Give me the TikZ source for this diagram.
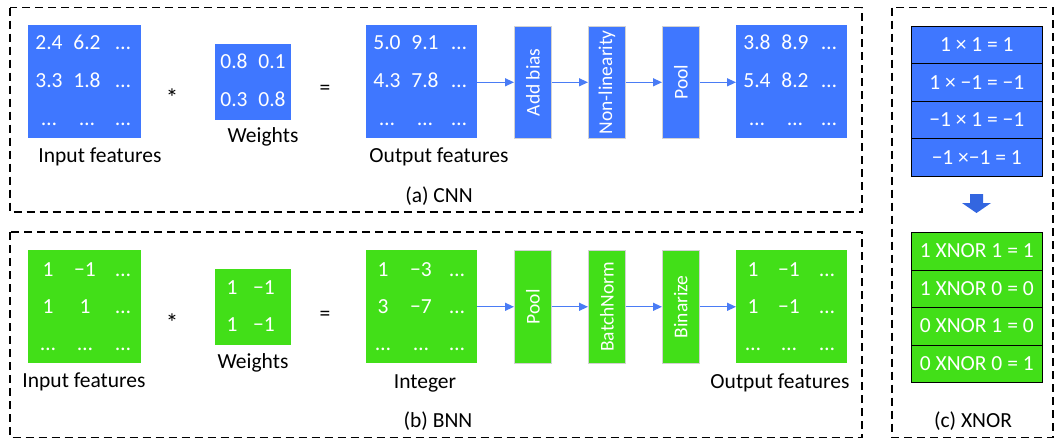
\documentclass[tikz,border=0pt]{standalone}
\usepackage{fontspec}
\setmainfont{Carlito}
\usetikzlibrary{arrows.meta}
\definecolor{cblue}{HTML}{3F77FF}
\definecolor{cgreen}{HTML}{42DF18}
\definecolor{arrblue}{HTML}{4A7CF5}
\definecolor{fatblue}{HTML}{3366E0}
\newcommand{\fsz}{\fontsize{21.5}{24}\selectfont}
\tikzset{
  frame/.style={draw=black,line width=1.3pt,dash pattern=on 8pt off 5pt},
  bmat/.style={fill=cblue,draw=none,minimum width=#1,minimum height=#1,inner sep=0pt,anchor=north west},
  gmat/.style={fill=cgreen,draw=none,minimum width=#1,minimum height=#1,inner sep=0pt,anchor=north west},
  bproc/.style={fill=cblue,draw=gray!35,line width=0.6pt,minimum width=37pt,minimum height=112pt,inner sep=0pt,anchor=north west},
  gproc/.style={fill=cgreen,draw=gray!35,line width=0.6pt,minimum width=37pt,minimum height=113pt,inner sep=0pt,anchor=north west},
  num/.style={text=white,inner sep=0pt,anchor=base,font=\fsz},
  lbl/.style={text=black,inner sep=0pt,anchor=base,font=\fsz},
  vtxt/.style={text=white,inner sep=0pt,rotate=90,font=\fontsize{19.5}{24}\selectfont},
  flow/.style={draw=arrblue,line width=1.3pt,-{Triangle[length=9pt,width=8pt]}},
  bluerow/.style={fill=cblue,draw=black,line width=0.6pt,minimum width=131pt,minimum height=37.4pt,inner sep=0pt,anchor=north west,text=white,font=\fsz},
  greenrow/.style={fill=cgreen,draw=black,line width=0.6pt,minimum width=131pt,minimum height=37.5pt,inner sep=0pt,anchor=north west,text=white,font=\fsz},
  starlbl/.style={text=black,inner sep=0pt,anchor=base,font=\fontsize{25}{28}\selectfont},
}
\begin{document}
\begin{tikzpicture}[x=1pt,y=-1pt]
\useasboundingbox (0,0) rectangle (1056,439);
% frames
\draw[frame] (10,7.5) rectangle (862,212);
\draw[frame] (10,232) rectangle (862,437.5);
\draw[frame] (892,7.5) rectangle (1053,437.5);

% ---------- (a) CNN ----------
\node[bmat=113pt] (ain) at (28,25) {};
\foreach \t/\x/\y [count=\i] in {2.4/49/49,6.2/87/49,…/123/49,3.3/49/87,1.8/87/87,…/123/87,…/49/125,…/87/125,…/123/125}
  \node[num] (ain\i) at (\x,\y) {\t};
\node[lbl] (ainl) at (100,162) {Input features};
\node[starlbl] (astar) at (172,106) {*};
\node[bmat=76pt] (aw) at (215,44) {};
\foreach \t/\x/\y [count=\i] in {0.8/234/68,0.1/272/68,0.3/234/106,0.8/272/106}
  \node[num] (aw\i) at (\x,\y) {\t};
\node[lbl] (awl) at (263,142) {Weights};
\node[lbl] (aeq) at (325,94) {=};
\node[bmat=111pt,minimum height=113pt] (aout) at (366,25) {};
\foreach \t/\x/\y [count=\i] in {5.0/387/49,9.1/425/49,…/459/49,4.3/387/87,7.8/425/87,…/459/87,…/387/125,…/425/125,…/459/125}
  \node[num] (aout\i) at (\x,\y) {\t};
\node[lbl] (aoutl) at (439,162) {Output features};
\node[bproc] (abias) at (514,26) {};
\node[vtxt] (abiast) at (abias.center) {Add bias};
\node[bproc] (anl) at (588,26) {};
\node[vtxt] (anlt) at (anl.center) {Non-linearity};
\node[bproc] (apool) at (662,26) {};
\node[vtxt] (apoolt) at (apool.center) {Pool};
\node[bmat=111pt,minimum height=113pt] (ares) at (736,25) {};
\foreach \t/\x/\y [count=\i] in {3.8/757/49,8.9/795/49,…/829/49,5.4/757/87,8.2/795/87,…/829/87,…/757/125,…/795/125,…/829/125}
  \node[num] (ares\i) at (\x,\y) {\t};
\draw[flow] (aout.east |- abias.west) -- (abias.west);
\draw[flow] (abias.east) -- (anl.west);
\draw[flow] (anl.east) -- (apool.west);
\draw[flow] (apool.east) -- (ares.west |- apool.east);
\node[lbl] (acap) at (439,202) {(a) CNN};

% ---------- (b) BNN ----------
\node[gmat=113pt] (bin) at (28,250) {};
\foreach \t/\x/\y [count=\i] in {1/48/276,−1/85/276,…/123/276,1/48/313,1/85/313,…/123/313,…/48/350,…/85/350,…/123/350}
  \node[num] (bin\i) at (\x,\y) {\t};
\node[lbl] (binl) at (84,387) {Input features};
\node[starlbl] (bstar) at (172,331) {*};
\node[gmat=76pt] (bw) at (215,269) {};
\foreach \t/\x/\y [count=\i] in {1/232/294,−1/264/294,1/232/331,−1/264/331}
  \node[num] (bw\i) at (\x,\y) {\t};
\node[lbl] (bwl) at (253,368) {Weights};
\node[lbl] (beq) at (325,320) {=};
\node[gmat=111pt,minimum height=113pt] (bint) at (366,250) {};
\foreach \t/\x/\y [count=\i] in {1/383/276,−3/421/276,…/457/276,3/383/313,−7/421/313,…/457/313,…/383/350,…/421/350,…/457/350}
  \node[num] (bint\i) at (\x,\y) {\t};
\node[lbl] (bintl) at (425,388) {Integer};
\node[gproc] (bpool) at (514,250) {};
\node[vtxt] (bpoolt) at (bpool.center) {Pool};
\node[gproc] (bbn) at (588,250) {};
\node[vtxt] (bbnt) at (bbn.center) {BatchNorm};
\node[gproc] (bbin) at (662,250) {};
\node[vtxt] (bbint) at (bbin.center) {Binarize};
\node[gmat=111pt,minimum height=113pt] (bres) at (736,250) {};
\foreach \t/\x/\y [count=\i] in {1/753/276,−1/789/276,…/827/276,1/753/313,−1/789/313,…/827/313,…/753/350,…/789/350,…/827/350}
  \node[num] (bres\i) at (\x,\y) {\t};
\node[lbl] (bresl) at (780,388) {Output features};
\draw[flow] (bint.east |- bpool.west) -- (bpool.west);
\draw[flow] (bpool.east) -- (bbn.west);
\draw[flow] (bbn.east) -- (bbin.west);
\draw[flow] (bbin.east) -- (bres.west |- bbin.east);
\node[lbl] (bcap) at (438,427) {(b) BNN};

% ---------- (c) XNOR ----------
\node[bluerow] (c1) at (911,26) {1 × 1 = 1};
\node[bluerow] (c2) at (911,63.4) {1 × −1 = −1};
\node[bluerow] (c3) at (911,100.8) {−1 × 1 = −1};
\node[bluerow] (c4) at (911,138.2) {−1 ×−1 = 1};
\fill[fatblue] (970,194) -- (983,194) -- (983,203) -- (991,203) -- (976.5,213) -- (962,203) -- (970,203) -- cycle;
\node[greenrow] (g1) at (911,232) {1 XNOR 1 = 1};
\node[greenrow] (g2) at (911,269.5) {1 XNOR 0 = 0};
\node[greenrow] (g3) at (911,307) {0 XNOR 1 = 0};
\node[greenrow] (g4) at (911,344.5) {0 XNOR 0 = 1};
\node[lbl] (ccap) at (973,427) {(c) XNOR};
\end{tikzpicture}
\end{document}
